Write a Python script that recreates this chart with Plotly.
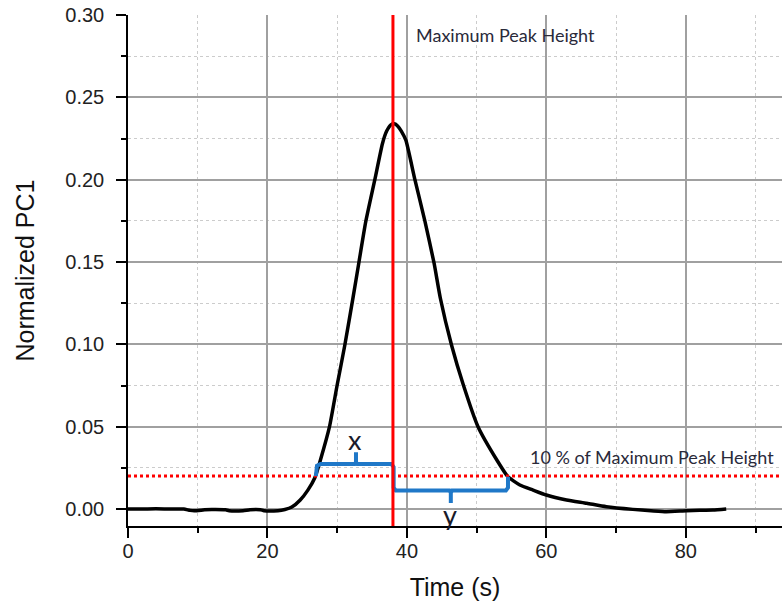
import plotly.graph_objects as go

# ---- data ----
time_s = [0, 2, 4, 6, 8, 8.9, 9.5, 11, 12, 14, 14.5, 16.5, 17.5, 19, 19.5, 21.5,
          22.5, 23.5, 24.7, 25.8, 26.8, 27.6, 28.9, 30.0, 31.1, 32.3, 33.1, 34.1,
          35.4, 36.5, 37.1, 37.7, 38.2, 38.7, 39.2, 39.85, 41.15, 42.6, 43.9, 44.8,
          46.4, 48.1, 50.2, 52.9, 54.5, 56.2, 58.1, 60.0, 62.9, 65.8, 68.6, 72.4,
          75, 77.2, 80.1, 82, 83.9, 85.8]
pc1 = [0.0, 0.0, 0.0002, 0.0, 0.0, -0.0008, -0.001, -0.0005, -0.0003, -0.0005,
       -0.001, -0.001, -0.0004, -0.0004, -0.001, -0.001, -0.0003, 0.0012, 0.0055,
       0.0115, 0.019, 0.0298, 0.05, 0.0753, 0.0996, 0.129, 0.1493, 0.1745, 0.200,
       0.222, 0.2295, 0.2333, 0.2339, 0.2325, 0.2295, 0.2240, 0.200, 0.1745, 0.1493,
       0.128, 0.0996, 0.0753, 0.05, 0.0298, 0.0196, 0.0146, 0.0115, 0.0085, 0.0055,
       0.0035, 0.0014, -0.0002, -0.001, -0.0016, -0.001, -0.0008, -0.0006, 0.0]

peak_time = 38.0
threshold = 0.02

# brace outlining x (rise to peak) and y (peak to fall) widths
brace_t = [26.95, 27.1, 27.6, 32.5, 32.7, 32.7, 32.7, 32.9, 37.8, 38.1, 38.1, 38.4,
           46.1, 46.3, 46.3, 46.3, 46.5, 54.2, 54.5, 54.5]
brace_v = [0.0200, 0.0262, 0.0273, 0.0273, 0.0285, 0.0345, 0.0285, 0.0273, 0.0273,
           0.0255, 0.0130, 0.0113, 0.0113, 0.0100, 0.0036, 0.0100, 0.0113, 0.0113,
           0.0130, 0.0196]

x_range = [0, 93.8]
y_range = [-0.0103, 0.30]

FONT = "Liberation Sans, Arial, sans-serif"
ANN_FONT = "Lato, Carlito, sans-serif"

fig = go.Figure()
fig.add_trace(go.Scatter(x=time_s, y=pc1, mode="lines",
                         line=dict(color="black", width=3.5, shape="spline", smoothing=0.5),
                         hoverinfo="skip"))
fig.add_trace(go.Scatter(x=x_range, y=[threshold, threshold], mode="lines",
                         line=dict(color="#ff0000", width=3, dash="3px,3px"),
                         hoverinfo="skip"))
fig.add_trace(go.Scatter(x=brace_t, y=brace_v, mode="lines",
                         line=dict(color="#1f78c8", width=4),
                         hoverinfo="skip"))
fig.add_trace(go.Scatter(x=[peak_time, peak_time], y=y_range, mode="lines",
                         line=dict(color="#ff0000", width=3),
                         hoverinfo="skip"))

fig.add_annotation(x=41.0, y=0.288, text="Maximum Peak Height", showarrow=False,
                   xanchor="left", yanchor="middle",
                   font=dict(family=ANN_FONT, size=18, color="#2a2a3a"))
fig.add_annotation(x=57.3, y=0.0316, text="10 % of Maximum Peak Height", showarrow=False,
                   xanchor="left", yanchor="middle",
                   font=dict(family=ANN_FONT, size=18, color="#2a2a3a"))
fig.add_annotation(x=32.55, y=0.0425, text="x", showarrow=False,
                   xanchor="center", yanchor="middle",
                   font=dict(family=ANN_FONT, size=27, color="#1a1a2a"))
fig.add_annotation(x=46.2, y=-0.0035, text="y", showarrow=False,
                   xanchor="center", yanchor="middle",
                   font=dict(family=ANN_FONT, size=27, color="#1a1a2a"))

fig.update_layout(
    width=782, height=606,
    margin=dict(l=128, r=0, t=15, b=80),
    paper_bgcolor="white", plot_bgcolor="white",
    showlegend=False,
    font=dict(family=FONT, color="#222222"),
)
fig.update_xaxes(
    range=x_range, dtick=20, tick0=0, automargin=False,
    showline=True, linecolor="black", linewidth=1.5,
    ticks="outside", ticklen=10, tickwidth=1.5, tickcolor="black",
    ticklabelstandoff=-4,
    showgrid=True, gridcolor="#a0a0a0", gridwidth=1.5, zeroline=False,
    tickfont=dict(size=20, color="#222222"),
    title=dict(text="Time (s)", font=dict(size=25, color="#111111"), standoff=18),
    minor=dict(dtick=10, ticks="outside", ticklen=5, tickwidth=1.5, tickcolor="black",
               showgrid=True, gridcolor="#cccccc", gridwidth=1, griddash="dot"),
)
fig.update_yaxes(
    range=y_range, dtick=0.05, tick0=0, tickformat=".2f", automargin=False,
    showline=True, linecolor="black", linewidth=1.5,
    ticks="outside", ticklen=10, tickwidth=1.5, tickcolor="black",
    ticklabelstandoff=8, ticklabeloverflow="allow",
    showgrid=True, gridcolor="#a0a0a0", gridwidth=1.5, zeroline=False,
    tickfont=dict(size=20, color="#222222"),
    title=dict(text="Normalized PC1", font=dict(size=25, color="#111111"), standoff=24),
    minor=dict(dtick=0.025, ticks="outside", ticklen=5, tickwidth=1.5, tickcolor="black",
               showgrid=True, gridcolor="#cccccc", gridwidth=1, griddash="dot"),
)

# remove the default 8px page margin so the figure fills the window exactly
fig.write_html("out.html", config={"displayModeBar": False},
               post_script="document.body.style.margin='0px';")
